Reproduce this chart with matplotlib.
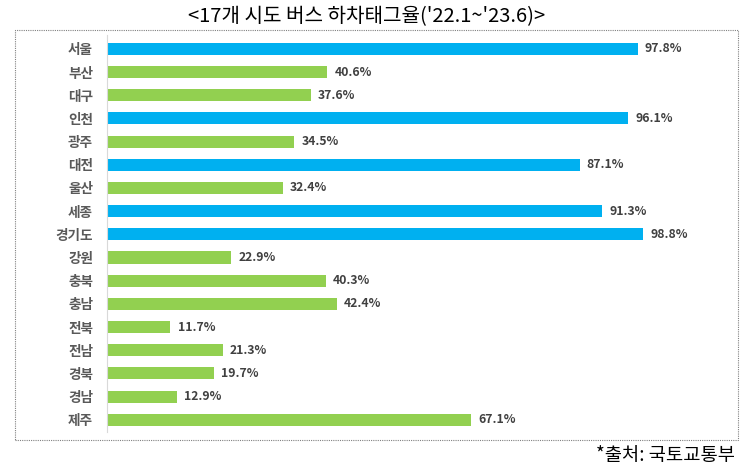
import matplotlib
matplotlib.use('Agg')
import matplotlib.pyplot as plt
from matplotlib.patches import Rectangle

plt.rcParams['font.family'] = ['Noto Sans CJK KR', 'DejaVu Sans']

regions = ['서울', '부산', '대구', '인천', '광주', '대전', '울산', '세종', '경기도',
           '강원', '충북', '충남', '전북', '전남', '경북', '경남', '제주']
rates = [97.8, 40.6, 37.6, 96.1, 34.5, 87.1, 32.4, 91.3, 98.8,
         22.9, 40.3, 42.4, 11.7, 21.3, 19.7, 12.9, 67.1]
highlight = ['서울', '인천', '대전', '세종', '경기도']

BLUE = '#00B0F0'
GREEN = '#92D050'

W, H = 750, 476
fig = plt.figure(figsize=(7.5, 4.76), dpi=100)

# dotted frame round the chart
fig.patches.append(Rectangle((15 / W, 1 - 440 / H), 723 / W, 410 / H,
                             transform=fig.transFigure, fill=False,
                             linestyle=(0, (1, 1)), linewidth=0.8, edgecolor='#808080'))

ax = fig.add_axes([107 / W, 1 - 432 / H, 624 / W, 397 / H])
colors = [BLUE if r in highlight else GREEN for r in regions]
ypos = range(len(regions))
ax.barh(ypos, rates, height=0.52, color=colors)
ax.set_xlim(0, 115)
ax.set_ylim(len(regions) - 0.47, -0.6)

for y, v in zip(ypos, rates):
    ax.text(v + 1.3, y, f'{v}%', va='center', ha='left', fontsize=8.8,
            fontweight='bold', color='#404040')

ax.set_yticks(list(ypos))
ax.set_yticklabels(regions, fontsize=9.8, color='#595959', fontweight='bold')
ax.tick_params(axis='y', length=0, pad=10)
ax.set_xticks([])
for s in ['top', 'right', 'bottom']:
    ax.spines[s].set_visible(False)
ax.spines['left'].set_color('#D9D9D9')

fig.text(367 / W, 1 - 17 / H, "<17개 시도 버스 하차태그율('22.1~'23.6)>", ha='center', va='center',
         fontsize=14.5, color='black')
fig.text(735 / W, 1 - 455 / H, '*출처: 국토교통부', ha='right', va='center',
         fontsize=13.5, color='black')

fig.savefig('out.png', dpi=100)
